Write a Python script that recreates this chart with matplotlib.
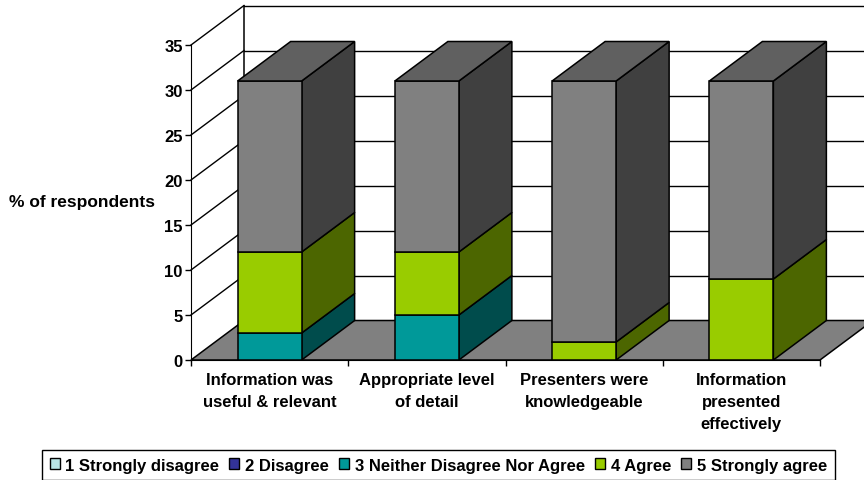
import matplotlib
matplotlib.use("Agg")
from matplotlib import pyplot as plt
from matplotlib.patches import Patch

categories = ["Information was\nuseful & relevant", "Appropriate level\nof detail",
              "Presenters were\nknowledgeable", "Information\npresented\neffectively"]
series_names = ["1 Strongly disagree", "2 Disagree", "3 Neither Disagree Nor Agree",
                "4 Agree", "5 Strongly agree"]
strongly_disagree = [0, 0, 0, 0]
disagree = [0, 0, 0, 0]
neither = [3, 5, 0, 0]
agree = [9, 7, 2, 9]
strongly_agree = [19, 19, 29, 22]
y_ticks = [0, 5, 10, 15, 20, 25, 30, 35]

front_colors = ["#B7E3E4", "#333399", "#009999", "#99CC00", "#808080"]
side_colors = ["#5C7172", "#1A1A4C", "#004C4C", "#4C6600", "#404040"]
top_color = "#606060"

W, H = 864, 481
plt.rcParams["font.family"] = ["Liberation Sans", "DejaVu Sans"]
plt.rcParams["font.weight"] = "bold"
plt.rcParams["font.size"] = 12

fig = plt.figure(figsize=(W / 100, H / 100), dpi=100)
# plot box in pixels: x 191-820, y 46-361
ax = fig.add_axes([191 / W, 1 - 361 / H, 629 / W, 315 / H])
ax.set_xlim(0, 4)
ax.set_ylim(0, 35)

# depth of the fake 3d, in data units
dx = 53 / 157.25
dy = 39.5 / 9
bar_w = 0.407

# floor
ax.fill([0, 4, 4 + dx, dx], [0, 0, dy, dy], fc="#808080", ec="black", lw=1.1,
        clip_on=False, zorder=1)

# back wall and gridlines
for v in y_ticks[1:]:
    ax.plot([0, dx], [v, v + dy], c="black", lw=1, clip_on=False, zorder=1)
    ax.plot([dx, 4 + dx], [v + dy, v + dy], c="black", lw=1, clip_on=False, zorder=1)
ax.plot([dx, dx], [dy, 35 + dy], c="black", lw=1.1, clip_on=False, zorder=1)

# stacked bars
stack = [strongly_disagree, disagree, neither, agree, strongly_agree]
for i in range(len(categories)):
    left = i + 0.5 - bar_w / 2
    right = left + bar_w
    base = 0
    for s, values in enumerate(stack):
        v = values[i]
        if v == 0:
            continue
        ax.fill([right, right + dx, right + dx, right],
                [base, base + dy, base + v + dy, base + v],
                fc=side_colors[s], ec="black", lw=1.1, clip_on=False, zorder=3)
        ax.bar(i + 0.5, v, bar_w, bottom=base, color=front_colors[s],
               edgecolor="black", linewidth=1.1, zorder=3)
        base += v
    ax.fill([left, right, right + dx, left + dx],
            [base, base, base + dy, base + dy],
            fc=top_color, ec="black", lw=1.1, clip_on=False, zorder=3)

for side in ["top", "right"]:
    ax.spines[side].set_visible(False)
ax.patch.set_visible(False)
for side in ["left", "bottom"]:
    ax.spines[side].set_zorder(4)

ax.set_yticks(y_ticks)
ax.set_xticks(range(5))
ax.set_xticklabels([])
ax.set_xticks([i + 0.5 for i in range(4)], minor=True)
ax.set_xticklabels(categories, minor=True, linespacing=1.55, ha="center", va="top")
ax.tick_params(axis="x", which="major", length=4.5, width=1)
ax.tick_params(axis="x", which="minor", length=0, pad=9)
ax.tick_params(axis="y", length=4, width=1, pad=2)

fig.text(82 / W, 1 - 203 / H, "% of respondents", ha="center", va="center", fontsize=12.5)

handles = [Patch(fc=c, ec="black", lw=1) for c in front_colors]
leg = fig.legend(handles, series_names, ncol=5, loc="center",
                 bbox_to_anchor=(438.5 / W, 1 - 466 / H), fancybox=False, framealpha=1,
                 edgecolor="black", handlelength=0.6, handleheight=0.6,
                 handletextpad=0.35, columnspacing=0.6, borderpad=0.45, borderaxespad=0)
leg.get_frame().set_linewidth(1)

fig.savefig("out.png", dpi=100)
